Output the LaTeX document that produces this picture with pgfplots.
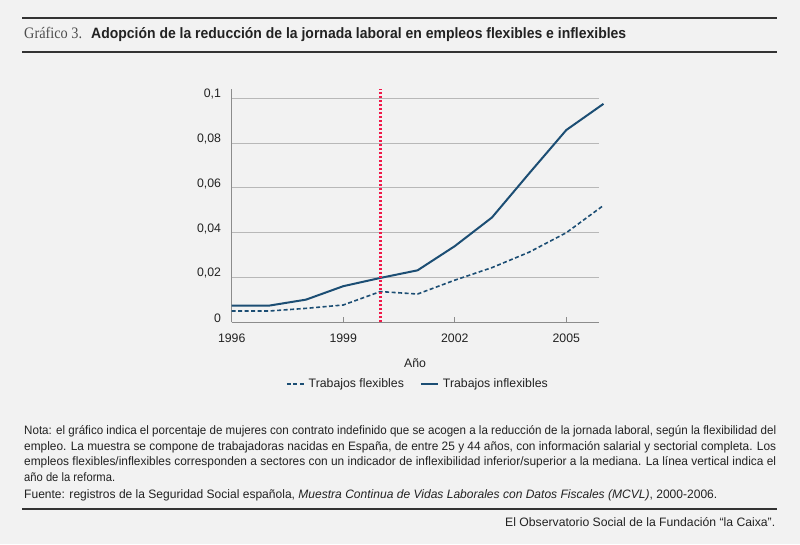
\documentclass[border=0pt]{standalone}
\usepackage{pgfplots}
\pgfplotsset{compat=1.18}
\usepackage{fontspec}
\usepackage{graphicx}
\setmainfont{Liberation Sans}
\newfontfamily\serifont{Liberation Serif}
\definecolor{bgc}{HTML}{F2F2F2}
\definecolor{linec}{HTML}{1C4E74}
\definecolor{redc}{HTML}{F0194A}
\definecolor{txt}{HTML}{222222}
\definecolor{rulec}{HTML}{333333}
\newcommand{\fitw}[2]{\resizebox{#1}{\height}{#2}}
\begin{document}
\begin{tikzpicture}[x=1pt,y=1pt]
\fill[bgc] (0,0) rectangle (800,544);
% rules
\draw[rulec, line width=2.2pt] (22,526) -- (777,526);
\draw[rulec, line width=2.2pt] (22,492) -- (777,492);
\draw[rulec, line width=2pt] (22,35) -- (777,35);
% title
\node[anchor=base west, inner sep=0pt, text=txt!80] at (24,505) {\fontsize{16}{18}\selectfont\fitw{58pt}{\serifont Gráfico 3.}};
\node[anchor=base west, inner sep=0pt, text=txt] at (91,505) {\fontsize{15}{17}\selectfont\fitw{535pt}{\bfseries Adopción de la reducción de la jornada laboral en empleos flexibles e inflexibles}};
% notes
\begin{scope}[every node/.style={anchor=base west, inner sep=0pt, text=txt}]
\node at (24,109.5) {\fontsize{12.2}{14}\selectfont\fitw{752pt}{Nota: el gráfico indica el porcentaje de mujeres con contrato indefinido que se acogen a la reducción de la jornada laboral, según la flexibilidad del}};
\node at (24,94) {\fontsize{12.2}{14}\selectfont\fitw{752pt}{empleo. La muestra se compone de trabajadoras nacidas en España, de entre 25 y 44 años, con información salarial y sectorial completa. Los}};
\node at (24,78.5) {\fontsize{12.2}{14}\selectfont\fitw{752pt}{empleos flexibles/inflexibles corresponden a sectores con un indicador de inflexibilidad inferior/superior a la mediana. La línea vertical indica el}};
\node at (24,63) {\fontsize{12.2}{14}\selectfont\fitw{91pt}{año de la reforma.}};
\node at (24,45.5) {\fontsize{12.2}{14}\selectfont\fitw{693pt}{Fuente: registros de la Seguridad Social española, \textit{Muestra Continua de Vidas Laborales con Datos Fiscales (MCVL)}, 2000-2006.}};
\node at (505,18) {\fontsize{12.2}{14}\selectfont\fitw{270pt}{El Observatorio Social de la Fundación “la Caixa”.}};
\end{scope}
\begin{axis}[
  at={(231.7pt,222pt)}, anchor=south west,
  scale only axis, width=367.3pt, height=232.7pt,
  xmin=1996, xmax=2005.88, ymin=0, ymax=0.104,
  clip=false,
  axis lines=left,
  axis line style={-, draw=black!45, line width=0.9pt},
  xtick={1996,1999,2002,2005},
  xticklabels={1996,1999,2002,2005},
  ytick={0,0.02,0.04,0.06,0.08,0.1},
  yticklabels={{0},{0,02},{0,04},{0,06},{0,08},{0,1}},
  tick align=inside,
  major tick length=5pt,
  x tick style={draw=black!45, line width=0.8pt},
  y tick style={draw=none},
  ymajorgrids,
  grid style={draw=black!28, line width=0.7pt},
  tick label style={font=\fontsize{12.3}{14}\selectfont, text=txt},
  xticklabel style={anchor=north, inner sep=0pt, yshift=-12pt},
  yticklabel style={anchor=east, inner sep=0pt, xshift=-10.5pt, yshift=4pt},
  xlabel={Año},
  xlabel style={at={(axis description cs:0.499,0)}, anchor=center, yshift=-41pt, font=\fontsize{12.3}{14}\selectfont, text=txt},
  legend columns=2,
  legend style={at={(axis description cs:0.507,-0.266)}, anchor=center, draw=none, fill=none,
    font=\fontsize{12.3}{14}\selectfont, text=txt,
    /tikz/every odd column/.append style={column sep=2pt},
    /tikz/every even column/.append style={column sep=14pt}},
  legend image code/.code={\draw[#1] (0pt,0pt) -- (17pt,0pt);},
]
\addplot[linec, line width=1.6pt, dash pattern=on 4pt off 2.5pt] coordinates {
(1996,0.0049) (1997,0.0049) (1998,0.0061) (1999,0.0076) (2000,0.0136) (2001,0.0125)
(2002,0.0187) (2003,0.0243) (2004,0.0312) (2005,0.0399) (2006,0.0521)};
\addlegendentry{Trabajos flexibles}
\addplot[linec, line width=2pt] coordinates {
(1996,0.0073) (1997,0.0073) (1998,0.0100) (1999,0.0160) (2000,0.0197) (2001,0.0231)
(2002,0.0339) (2003,0.0467) (2004,0.0664) (2005,0.0858) (2006,0.0975)};
\addlegendentry{Trabajos inflexibles}
\addplot[redc, line width=2.2pt, dash pattern=on 2pt off 2pt, forget plot] coordinates {(2000,0) (2000,0.104)};
\end{axis}
\end{tikzpicture}
\end{document}
